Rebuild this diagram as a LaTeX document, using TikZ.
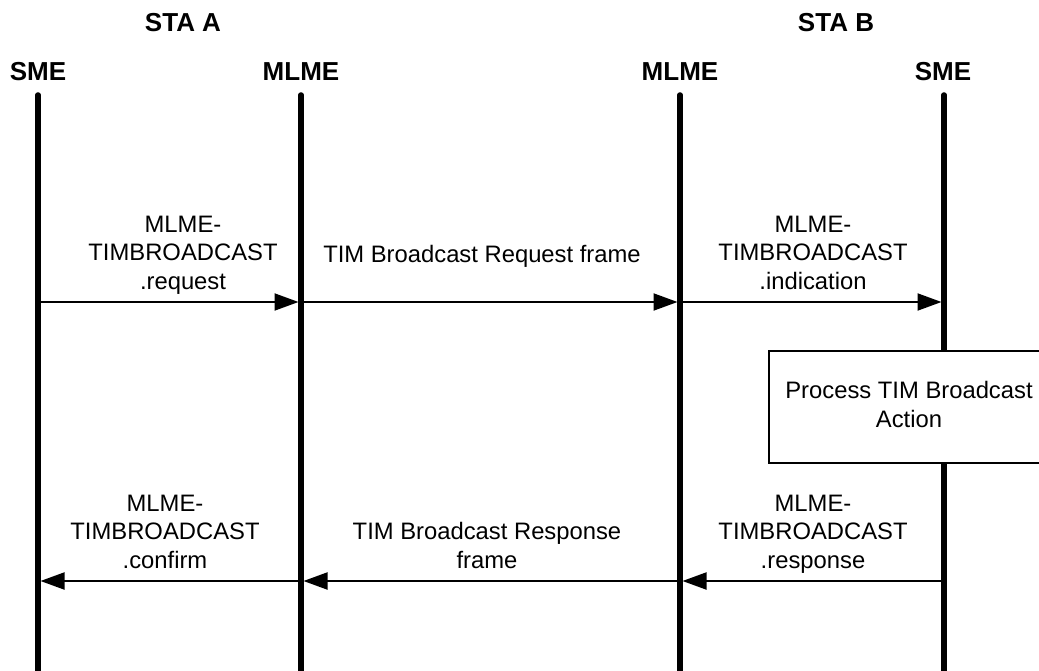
\documentclass[tikz,border=0pt]{standalone}
\usepackage{fontspec}
\setmainfont{Liberation Sans}
\usetikzlibrary{arrows.meta}
\begin{document}
\begin{tikzpicture}[x=1pt,y=-1pt,
  lbl/.style={font=\fontsize{23.8}{28.3}\selectfont, align=center, inner sep=0pt, anchor=base},
  hdr/.style={font=\fontsize{26}{30}\selectfont\bfseries, inner sep=0pt, anchor=base},
  life/.style={line width=5.5pt, line cap=round},
  msg/.style={line width=2pt, -{Triangle[length=24pt,width=17pt]}, shorten >=2.5pt},
  procbox/.style={draw, fill=white, line width=1.2pt}]
\useasboundingbox (0,0) rectangle (1039,671);
% headers
\node[hdr] (staA) at (183,32) {STA A};
\node[hdr] (staB) at (836,32) {STA B};
\node[hdr] (smeA) at (38,81) {SME};
\node[hdr] (mlmeA) at (301,81) {MLME};
\node[hdr] (mlmeB) at (680,81) {MLME};
\node[hdr] (smeB) at (943,81) {SME};
% lifeline coordinates
\coordinate (tA1) at (38,95);   \coordinate (bA1) at (38,680);
\coordinate (tA2) at (301,95);  \coordinate (bA2) at (301,680);
\coordinate (tB2) at (680,95);  \coordinate (bB2) at (680,680);
\coordinate (tB1) at (944,95);  \coordinate (bB1) at (944,680);
\draw[life] (tA1) -- (bA1);
\draw[life] (tA2) -- (bA2);
\draw[life] (tB2) -- (bB2);
\draw[life] (tB1) -- (bB1);
% message points
\coordinate (q1) at (38,302);  \coordinate (q2) at (301,302);
\coordinate (q3) at (680,302); \coordinate (q4) at (944,302);
\coordinate (p1) at (38,581);  \coordinate (p2) at (301,581);
\coordinate (p3) at (680,581); \coordinate (p4) at (944,581);
% forward messages
\draw[msg] (q1) -- (q2);
\draw[msg] (q2) -- (q3);
\draw[msg] (q3) -- (q4);
\node[lbl] (lreq) at (183,289) {MLME-\\TIMBROADCAST\\.request};
\node[lbl] (lreqf) at (482,262) {TIM Broadcast Request frame};
\node[lbl] (lind) at (813,289) {MLME-\\TIMBROADCAST\\.indication};
% process box
\draw[procbox] (769,351) rectangle (1052,463);
\node[lbl] (proc) at (909,427) {Process TIM Broadcast\\Action};
% return messages
\draw[msg] (p4) -- (p3);
\draw[msg] (p3) -- (p2);
\draw[msg] (p2) -- (p1);
\node[lbl] (lconf) at (165,568) {MLME-\\TIMBROADCAST\\.confirm};
\node[lbl] (lrspf) at (487,568) {TIM Broadcast Response\\frame};
\node[lbl] (lrsp) at (813,568) {MLME-\\TIMBROADCAST\\.response};
\end{tikzpicture}
\end{document}
